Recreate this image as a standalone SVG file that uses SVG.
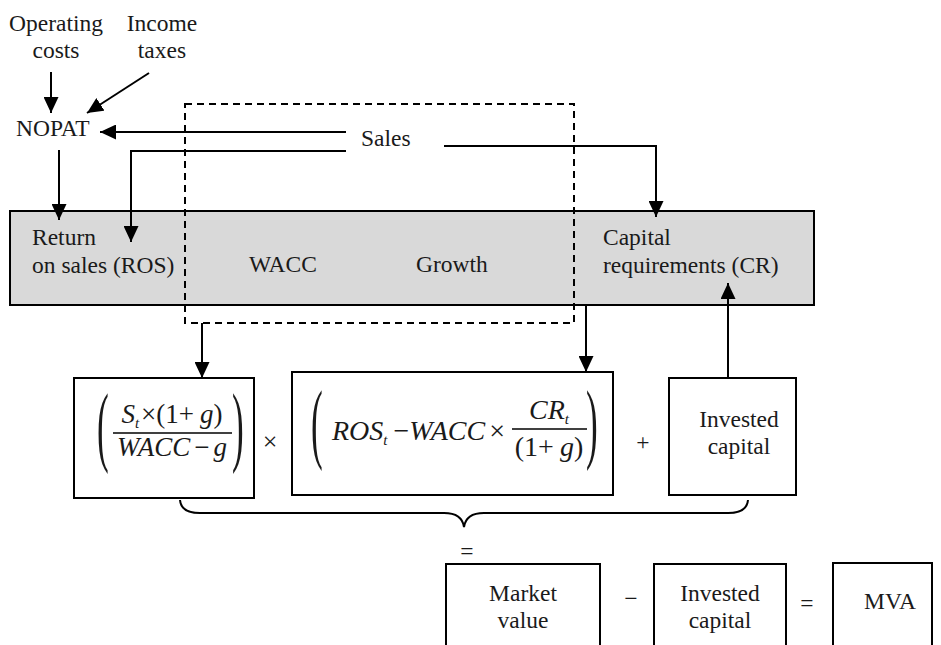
<svg xmlns="http://www.w3.org/2000/svg" width="941" height="645" viewBox="0 0 941 645">
<defs>
<marker id="ah" markerUnits="userSpaceOnUse" markerWidth="16" markerHeight="15" refX="16" refY="7.5" orient="auto">
<path d="M0,0 L16,7.5 L0,15 z" fill="#000"/>
</marker>
<style>
text{font-family:"Liberation Serif","Times New Roman",serif;font-size:23.5px;fill:#1a1a1a}
.m{text-anchor:middle}
.f{font-size:28px}
.g{font-size:27px}
.i{font-style:italic}
.sub{font-size:15px;font-style:italic}
.box{fill:#fff;stroke:#000;stroke-width:2}
.con{fill:none;stroke:#000;stroke-width:2}
.arr{fill:none;stroke:#000;stroke-width:2;marker-end:url(#ah)}
.bar{stroke:#000;stroke-width:1.6}
.par{font-size:88px}
</style>
</defs>
<rect width="941" height="645" fill="#fff"/>

<g id="drivers">
<rect x="10" y="211" width="804" height="94" fill="#d9d9d9" stroke="#000" stroke-width="2"/>
<text x="32" y="245">Return</text>
<text x="32" y="273">on sales (ROS)</text>
<text x="249" y="272">WACC</text>
<text x="416" y="272">Growth</text>
<text x="603" y="245">Capital</text>
<text x="603" y="273">requirements (CR)</text>
</g>

<g id="dashed-group">
<rect x="185" y="104" width="389" height="219" fill="none" stroke="#000" stroke-width="2" stroke-dasharray="7,5"/>
</g>

<g id="operating-costs"><text class="m" x="56" y="31">Operating</text><text class="m" x="56" y="58">costs</text></g>
<g id="income-taxes"><text class="m" x="162" y="31">Income</text><text class="m" x="162" y="58">taxes</text></g>
<g id="nopat"><text x="16" y="136">NOPAT</text></g>
<g id="sales"><text x="361" y="146">Sales</text></g>

<g id="connectors">
<path class="arr" d="M51,72 L51,113"/>
<path class="arr" d="M149,73 L87,113"/>
<path class="arr" d="M346,132 L100,132"/>
<path class="arr" d="M346,151 L131,151 L131,242"/>
<path class="arr" d="M59,150 L59,220"/>
<path class="arr" d="M444,146 L656,146 L656,217"/>
<path class="arr" d="M202,323 L202,378"/>
<path class="arr" d="M586,305 L586,372"/>
<path class="arr" d="M728,378 L728,283"/>
<path class="con" d="M180,500 Q181,513 200,513 L444,513 Q462,513 464,527 Q466,513 484,513 L728,513 Q747,513 748,500"/>
</g>

<g id="formula-1">
<rect class="box" x="74" y="378" width="180" height="120"/>
<text class="par" transform="translate(97,455) scale(0.4,1)">(</text>
<text class="par" transform="translate(232,455) scale(0.4,1)">)</text>
<text class="g m" x="172" y="423"><tspan class="i">S</tspan><tspan class="sub" dy="5">t</tspan><tspan dy="-5" dx="2">×(1+</tspan><tspan class="i" dx="6">g</tspan>)</text>
<line class="bar" x1="113" y1="433" x2="232" y2="433"/>
<text class="g m" x="172" y="456"><tspan class="i">WACC</tspan><tspan dx="4">−</tspan><tspan class="i" dx="4">g</tspan></text>
</g>

<text id="times" class="m" x="270" y="450" style="font-size:26px">×</text>

<g id="formula-2">
<rect class="box" x="292" y="372" width="321" height="123"/>
<text class="par" transform="translate(311,452) scale(0.4,1)">(</text>
<text class="par" transform="translate(586,452) scale(0.4,1)">)</text>
<text class="f" x="332" y="440"><tspan class="i">ROS</tspan><tspan class="sub" dy="5">t</tspan><tspan dy="-5" dx="6">−</tspan><tspan class="i">WACC</tspan><tspan dx="4">×</tspan></text>
<text class="f m" x="549" y="419"><tspan class="i">CR</tspan><tspan class="sub" dy="5">t</tspan></text>
<line class="bar" x1="512" y1="429" x2="587" y2="429"/>
<text class="f m" x="549" y="456">(1+<tspan class="i" dx="6">g</tspan>)</text>
</g>

<text id="plus" class="m" x="643" y="450">+</text>

<g id="invested-capital-top">
<rect class="box" x="669" y="378" width="127" height="117"/>
<text class="m" x="739" y="427">Invested</text>
<text class="m" x="739" y="454">capital</text>
</g>

<text id="equals-1" class="m" x="467" y="559">=</text>

<g id="market-value">
<rect class="box" x="446" y="564" width="154" height="100"/>
<text class="m" x="523" y="601">Market</text>
<text class="m" x="523" y="628">value</text>
</g>

<text id="minus" class="m" x="631" y="606">−</text>

<g id="invested-capital-bottom">
<rect class="box" x="654" y="564" width="132" height="100"/>
<text class="m" x="720" y="601">Invested</text>
<text class="m" x="720" y="628">capital</text>
</g>

<text id="equals-2" class="m" x="807" y="611">=</text>

<g id="mva">
<rect class="box" x="833" y="563" width="99" height="100"/>
<text class="m" x="890" y="609">MVA</text>
</g>
</svg>
